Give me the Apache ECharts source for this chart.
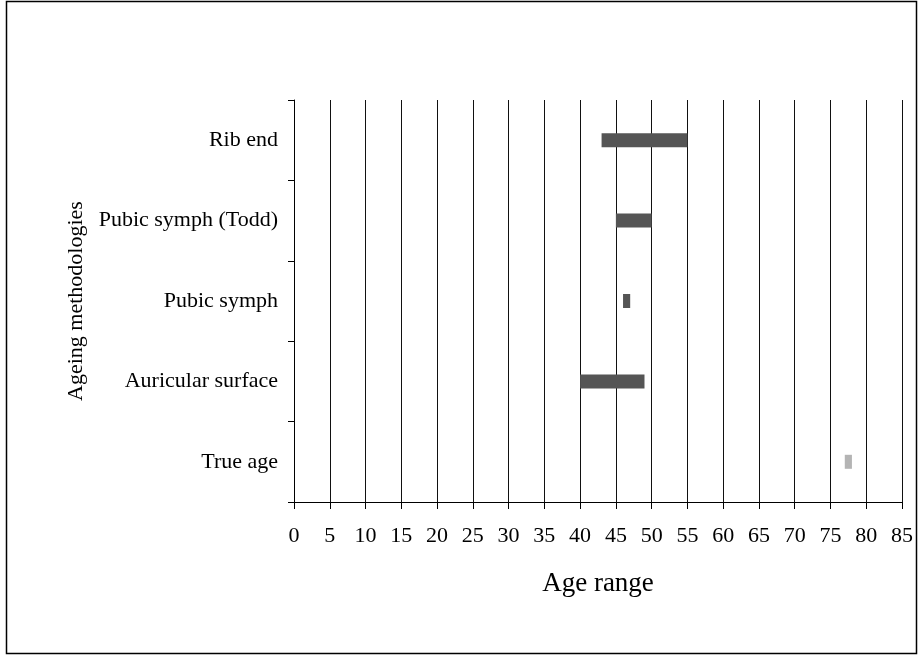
<!DOCTYPE html>
<html>
<head>
<meta charset="utf-8">
<style>
  html, body { margin: 0; padding: 0; background: #fff; }
  #chart { width: 919px; height: 656px; }
</style>
<script src="https://cdn.jsdelivr.net/npm/echarts@6/dist/echarts.min.js"></script>
</head>
<body>
<div id="chart"></div>
<script>
// Ageing methodologies, listed bottom to top
const categories = ['True age', 'Auricular surface', 'Pubic symph', 'Pubic symph (Todd)', 'Rib end'];
// Estimated age range per method: lower and upper bound (years)
const rangeStart = [77, 40, 46, 45, 43];
const rangeEnd   = [78, 49, 47, 50, 55];
// Axis ticks
const xMin = 0, xMax = 85, xStep = 5;

const serif = '"Liberation Serif", "DejaVu Serif", serif';
const darkBar = '#555555';
const lightBar = '#b4b4b4';

const chart = echarts.init(document.getElementById('chart'), null, { renderer: 'canvas' });

chart.setOption({
  backgroundColor: '#ffffff',
  animation: false,
  graphic: [{
    type: 'rect',
    shape: { x: 6.5, y: 1.5, width: 910, height: 652 },
    style: { fill: 'none', stroke: '#000', lineWidth: 1.5 },
    silent: true
  }],
  grid: { left: 294, right: 17, top: 100, bottom: 154, containLabel: false },
  xAxis: {
    type: 'value',
    min: xMin, max: xMax, interval: xStep,
    name: 'Age range',
    nameLocation: 'middle',
    nameGap: 68,
    nameTextStyle: { fontFamily: serif, fontSize: 27, color: '#000' },
    axisLine: { show: true, lineStyle: { color: '#000', width: 1 } },
    axisTick: { show: true, length: 7, lineStyle: { color: '#000' } },
    axisLabel: { fontFamily: serif, fontSize: 22, color: '#000', margin: 23 },
    splitLine: { show: true, lineStyle: { color: '#111', width: 1 } }
  },
  yAxis: {
    type: 'category',
    data: categories,
    name: 'Ageing methodologies',
    nameLocation: 'middle',
    nameGap: 207,
    nameTextStyle: { fontFamily: serif, fontSize: 22, color: '#000' },
    axisLine: { show: true, lineStyle: { color: '#000', width: 1 } },
    axisTick: { show: true, length: 6, inside: false, lineStyle: { color: '#000' } },
    axisLabel: { fontFamily: serif, fontSize: 22, color: '#000', margin: 16 },
    splitLine: { show: false }
  },
  series: [
    {
      // invisible offset up to the lower bound
      type: 'bar',
      stack: 'range',
      barWidth: 14,
      itemStyle: { color: 'transparent' },
      data: rangeStart,
      silent: true
    },
    {
      type: 'bar',
      stack: 'range',
      barWidth: 14,
      data: rangeEnd.map((end, i) => ({
        value: end - rangeStart[i],
        itemStyle: { color: categories[i] === 'True age' ? lightBar : darkBar }
      }))
    }
  ]
});
</script>
</body>
</html>
